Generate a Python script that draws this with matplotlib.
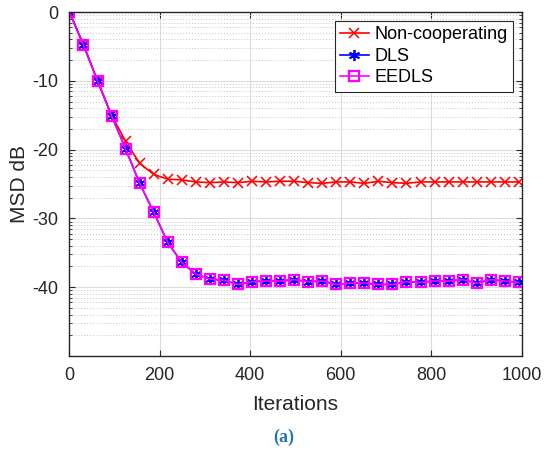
import numpy as np
import matplotlib.pyplot as plt

plt.rcParams['font.family'] = ['Liberation Sans', 'DejaVu Sans']
plt.rcParams['axes.unicode_minus'] = False

# iterations where the curves are sampled (markers every 31 iterations)
iters = [1, 32, 63, 94, 125, 156, 187, 218, 249, 280, 311, 342, 373, 404, 435,
         466, 497, 528, 559, 590, 621, 652, 683, 714, 745, 776, 807, 838, 869,
         900, 931, 962, 993]

msd_noncoop = [0.0, -4.8, -10.0, -15.0, -18.8, -22.0, -23.6, -24.3, -24.4, -24.7,
               -24.8, -24.7, -24.8, -24.6, -24.7, -24.6, -24.6, -24.8, -24.9, -24.7,
               -24.7, -24.9, -24.6, -24.8, -24.9, -24.7, -24.7, -24.7, -24.7, -24.7,
               -24.7, -24.7, -24.7]

msd_dls = [0.0, -4.8, -10.0, -15.1, -19.9, -24.9, -29.1, -33.5, -36.4, -38.1,
           -38.8, -39.0, -39.6, -39.2, -39.1, -39.1, -38.9, -39.2, -39.1, -39.6,
           -39.4, -39.4, -39.6, -39.6, -39.2, -39.3, -39.1, -39.1, -38.9, -39.4,
           -38.9, -39.1, -39.3]

msd_eedls = [0.0, -4.8, -10.0, -15.1, -19.9, -24.9, -29.1, -33.5, -36.4, -38.1,
             -38.8, -39.0, -39.6, -39.2, -39.1, -39.1, -38.9, -39.2, -39.1, -39.6,
             -39.4, -39.4, -39.6, -39.6, -39.2, -39.3, -39.1, -39.1, -38.9, -39.4,
             -38.9, -39.1, -39.3]

xticks = [0, 200, 400, 600, 800, 1000]
yticks = [-40, -30, -20, -10, 0]

fig = plt.figure(figsize=(5.45, 4.53), dpi=100)
ax = fig.add_axes([0.1266, 0.2141, 0.8312, 0.7594])

# matlab-like asterisk: 6 line arms
ax.plot(iters, msd_noncoop, '-x', color='#ff0000', lw=1.2, ms=7, mew=1.1,
        label='Non-cooperating')
ax.plot(iters, msd_dls, '-', marker=(6, 2, 0), color='#0000ff', lw=1.2, ms=8,
        mew=1.3, label='DLS')
ax.plot(iters, msd_eedls, '-s', color='#ff00ff', lw=1.2, ms=7.5, mew=1.6,
        mfc='none', label='EEDLS')

ax.set_xlim(0, 1000)
ax.set_ylim(-50, 0)
ax.set_xticks(xticks)
ax.set_yticks(yticks)

# minor ticks follow a log-decade pattern inside every 10 dB band
minor = []
for low in [-50, -40, -30, -20, -10]:
    for m in range(2, 10):
        minor.append(low + 10 * np.log10(m))
ax.set_yticks(minor, minor=True)

ax.grid(True, which='major', color='#dcdcdc', lw=0.8, ls='-')
ax.grid(True, which='minor', axis='y', color='#c4c4c4', lw=0.7, ls=(0, (1, 2)))
ax.set_axisbelow(True)

ax.tick_params(which='both', direction='in', top=True, right=True,
               labelsize=13, colors='#262626')
ax.tick_params(which='major', length=4, pad=8)
ax.tick_params(which='minor', length=2)
for s in ax.spines.values():
    s.set_color('#262626')
    s.set_linewidth(1.0)

ax.set_xlabel('Iterations', fontsize=15, color='#262626', labelpad=8)
ax.set_ylabel('MSD dB', fontsize=15, color='#262626', labelpad=2)

leg = ax.legend(loc='upper right', fontsize=13, fancybox=False, framealpha=1,
                edgecolor='#262626', handlelength=1.6, borderaxespad=0.5,
                labelspacing=0.25, handletextpad=0.3, borderpad=0.3)
leg.get_frame().set_linewidth(0.8)

fig.text(0.52, 0.025, '(a)', fontsize=13, fontweight='bold',
         family='Liberation Serif', color='#2277b4', ha='center')

fig.savefig('out.png', dpi=100)
